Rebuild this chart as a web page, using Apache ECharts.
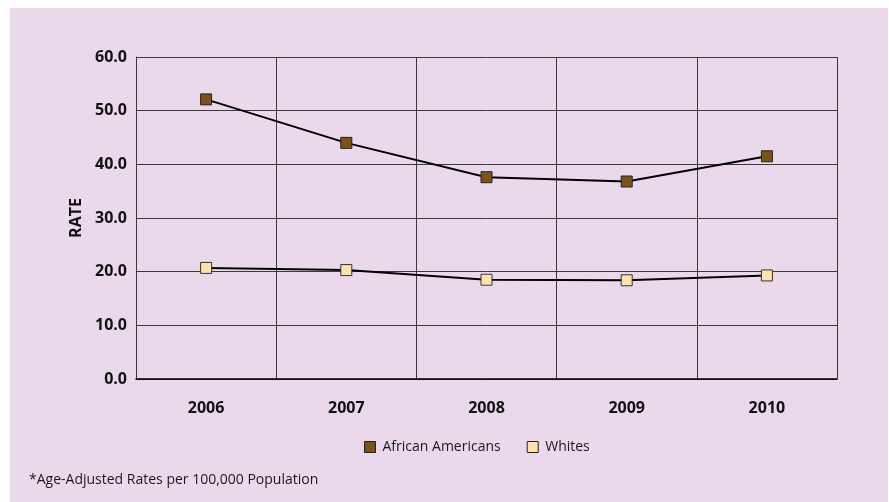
<!DOCTYPE html>
<html>
<head>
<meta charset="utf-8">
<script src="https://cdn.jsdelivr.net/npm/echarts@6/dist/echarts.min.js"></script>
<style>
  html, body { margin: 0; padding: 0; background: #ffffff; }
  #chart { width: 889px; height: 502px; }
</style>
</head>
<body>
<div id="chart"></div>
<script>
// Years on the x axis
const years = ['2006', '2007', '2008', '2009', '2010'];
// Age-adjusted rates per 100,000 population
const africanAmericans = [52.1, 44.0, 37.6, 36.8, 41.5];
const whites = [20.7, 20.3, 18.5, 18.4, 19.3];
// Value axis ticks
const yMin = 0, yMax = 60, yStep = 10;

const font = '"Open Sans", "Noto Sans", sans-serif';
const chart = echarts.init(document.getElementById('chart'), null, { renderer: 'canvas' });

chart.setOption({
  animation: false,
  backgroundColor: '#ffffff',
  graphic: [
    { type: 'rect', z: -10, shape: { x: 10, y: 8, width: 878, height: 494 }, style: { fill: '#e9d9ea' } },
    { type: 'text', left: 29, top: 473, style: { text: '*Age-Adjusted Rates per 100,000 Population', font: '14px ' + font, fill: '#1a1a1a' } }
  ],
  grid: { left: 136, right: 52, top: 57, bottom: 123 },
  legend: {
    data: ['African Americans', 'Whites'],
    top: 435, left: 359,
    icon: 'rect', itemWidth: 11, itemHeight: 11, itemGap: 26,
    textStyle: { fontFamily: font, fontSize: 14, color: '#1a1a1a', padding: [0, 0, 0, 2] },
    itemStyle: { borderColor: '#222', borderWidth: 1 }
  },
  xAxis: {
    type: 'category', data: years, boundaryGap: true,
    axisLine: { lineStyle: { color: '#000', width: 1.5 } },
    axisTick: { show: false },
    splitLine: { show: true, lineStyle: { color: '#3a3a3a', width: 1 } },
    axisLabel: { fontFamily: font, fontWeight: 'bold', fontSize: 16, color: '#111', margin: 21 }
  },
  yAxis: {
    type: 'value', min: yMin, max: yMax, interval: yStep,
    name: 'RATE', nameLocation: 'middle', nameGap: 52, nameRotate: 90,
    nameTextStyle: { fontFamily: font, fontWeight: 'bold', fontSize: 16, color: '#111' },
    axisLine: { show: true, lineStyle: { color: '#3a3a3a', width: 1 } },
    axisTick: { show: false },
    splitLine: { lineStyle: { color: '#3a3a3a', width: 1 } },
    axisLabel: { fontFamily: font, fontWeight: 'bold', fontSize: 16, color: '#111', margin: 9,
      formatter: v => v.toFixed(1) }
  },
  series: [
    {
      name: 'African Americans', type: 'line', data: africanAmericans,
      symbol: 'rect', symbolSize: 11,
      lineStyle: { color: '#000', width: 2 },
      itemStyle: { color: '#7b5219', borderColor: '#222', borderWidth: 1 }
    },
    {
      name: 'Whites', type: 'line', data: whites,
      symbol: 'rect', symbolSize: 11,
      lineStyle: { color: '#000', width: 2 },
      itemStyle: { color: '#fde2b0', borderColor: '#333', borderWidth: 1 }
    }
  ]
});
</script>
</body>
</html>
